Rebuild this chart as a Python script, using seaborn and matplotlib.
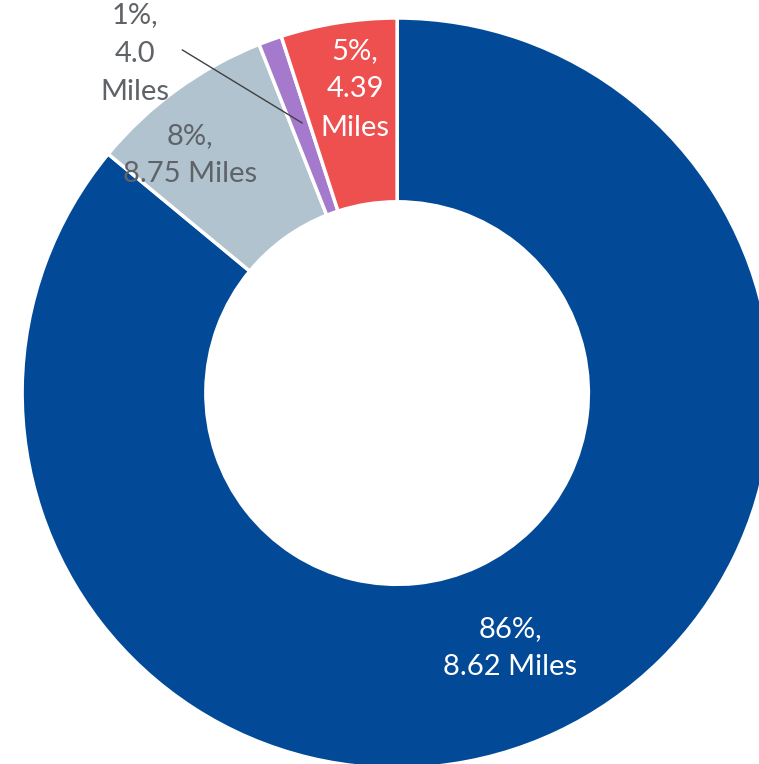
import matplotlib
matplotlib.use("Agg")
import matplotlib.pyplot as plt
import seaborn as sns

# miles share by category (clockwise from 12 o'clock)
shares = [86, 8, 1, 5]
miles = ["8.62", "8.75", "4.0", "4.39"]
colors = ["#024a97", "#b0c3cf", "#a57acc", "#ee5050"]

sns.set_theme(style="white")
plt.rcParams['font.family'] = ['Lato', 'DejaVu Sans']

fig = plt.figure(figsize=(7.59, 7.64), dpi=100)
ax = fig.add_axes([0, 0, 1, 1])
wedges, _ = ax.pie(shares, colors=sns.color_palette(colors), startangle=90,
                   counterclock=False, radius=1,
                   wedgeprops=dict(width=0.49, edgecolor="white", linewidth=2.5))
ax.set_aspect("auto")
ax.set_xlim(-1.059, 0.965)
ax.set_ylim(-0.989, 1.048)
ax.axis("off")

fs = 21
ls = 1.6
ax.text(0.301, -0.68, f"{shares[0]}%,\n{miles[0]} Miles", color="white",
        ha="center", va="center", fontsize=fs, linespacing=ls)
ax.text(-0.552, 0.635, f"{shares[1]}%,\n{miles[1]} Miles", color="#5f6368",
        ha="center", va="center", fontsize=fs, linespacing=ls)
ax.text(-0.112, 0.81, f"{shares[3]}%,\n{miles[3]}\nMiles", color="white",
        ha="center", va="center", fontsize=fs, linespacing=ls)
ax.text(-0.70, 0.905, f"{shares[2]}%,\n{miles[2]}\nMiles", color="#5f6368",
        ha="center", va="center", fontsize=fs, linespacing=ls)
ax.plot([-0.573, -0.253], [0.915, 0.72], color="#404040", lw=1)

fig.savefig("out.png", dpi=100)
